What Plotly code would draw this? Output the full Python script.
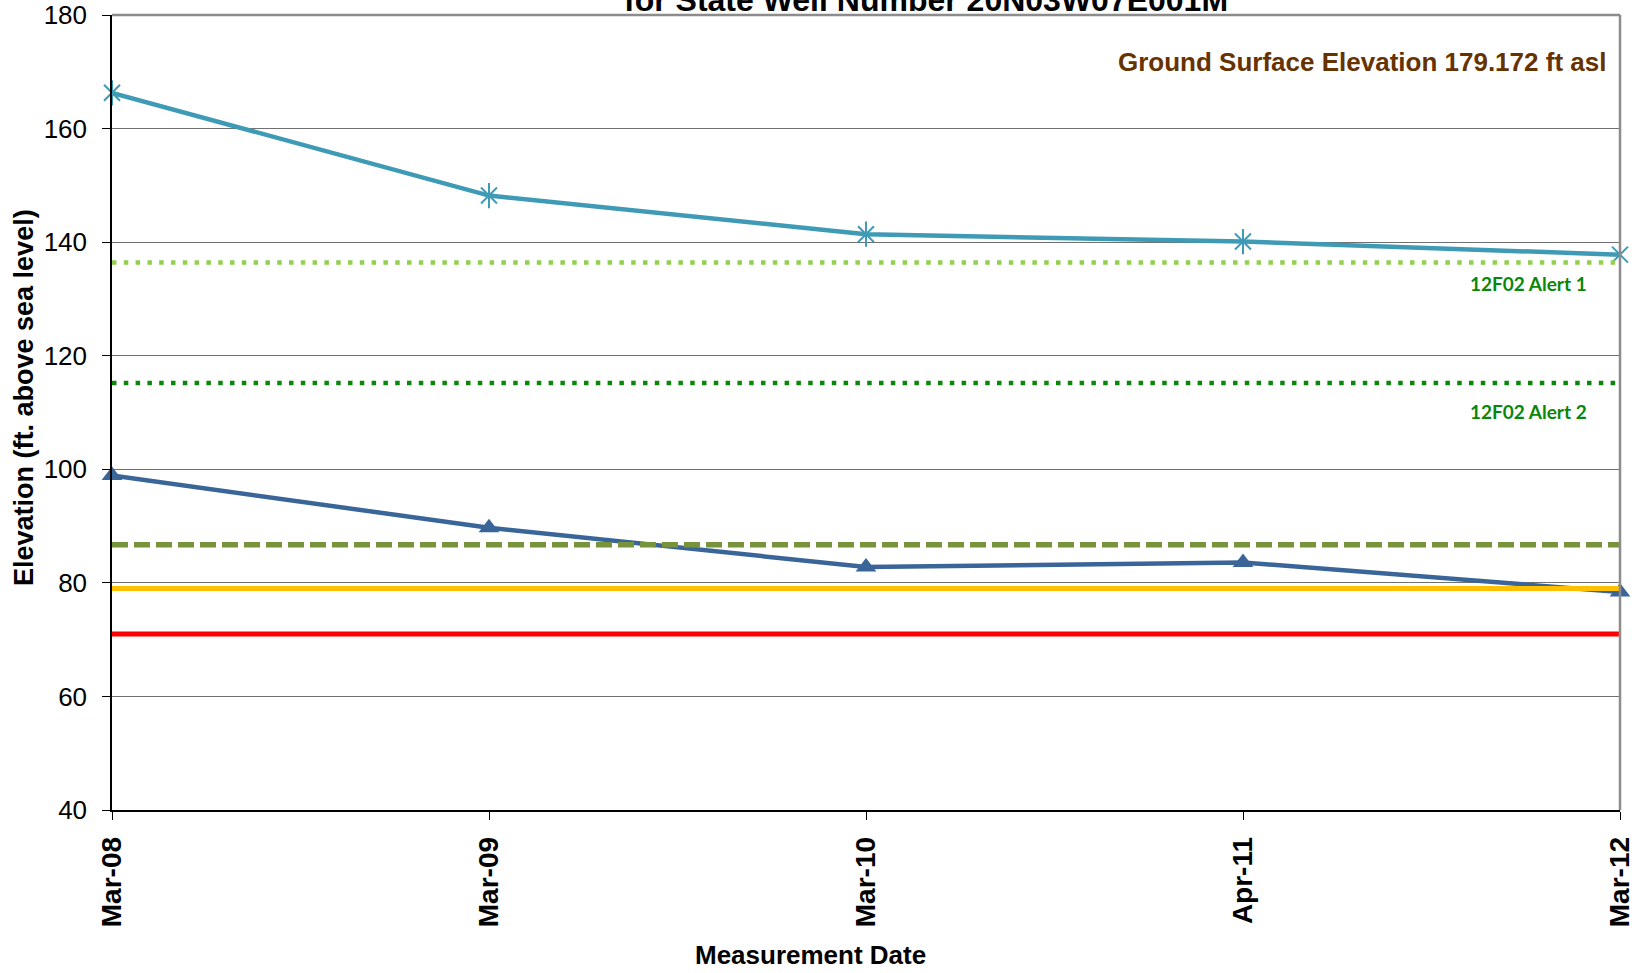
import plotly.graph_objects as go

# Measurement dates (category axis) and groundwater elevations, ft asl
dates = ["Mar-08", "Mar-09", "Mar-10", "Apr-11", "Mar-12"]
upper_aquifer = [166.3, 148.2, 141.4, 140.1, 137.8]
lower_aquifer = [98.9, 89.7, 82.8, 83.6, 78.4]

# Reference elevations drawn as horizontal lines across the record
alert1_level = 136.4
alert2_level = 115.2
olive_level = 86.7
yellow_level = 79.0
red_level = 71.0
ground_surface = 179.172

y_ticks = [40, 60, 80, 100, 120, 140, 160, 180]

FONT = "Liberation Sans, Arial, sans-serif"
TEAL = "#3f9ab5"
BLUE = "#3a6599"

fig = go.Figure()

span = [dates[0], dates[-1]]

# Upper well series: teal line with star markers (x + vertical stroke)
fig.add_trace(go.Scatter(
    x=dates, y=upper_aquifer, mode="lines",
    line=dict(color=TEAL, width=4.5), cliponaxis=False, hoverinfo="skip"))
fig.add_trace(go.Scatter(
    x=dates, y=upper_aquifer, mode="markers",
    marker=dict(symbol="x-thin-open", size=16, color=TEAL, line=dict(color=TEAL, width=2)),
    cliponaxis=False))
fig.add_trace(go.Scatter(
    x=dates, y=upper_aquifer, mode="markers",
    marker=dict(symbol="line-ns-open", size=18, color=TEAL, line=dict(color=TEAL, width=2)),
    cliponaxis=False))

# Lower well series: dark blue line with triangle markers
fig.add_trace(go.Scatter(
    x=dates, y=lower_aquifer, mode="lines+markers",
    line=dict(color=BLUE, width=4.5),
    marker=dict(symbol="triangle-up", size=18, color=BLUE),
    cliponaxis=False))

# Horizontal reference levels
levels = [
    (alert1_level, "#92d050", 4.5, "4.5px,7.3px"),
    (alert2_level, "#0a870a", 4.5, "4.5px,7.3px"),
    (olive_level, "#77933c", 5.5, "16px,6px"),
    (yellow_level, "#ffc000", 5, "solid"),
    (red_level, "#ff0000", 5, "solid"),
]
for val, col, w, dash in levels:
    fig.add_trace(go.Scatter(
        x=span, y=[val, val], mode="lines",
        line=dict(color=col, width=w, dash=dash), cliponaxis=False))

# Gray frame on the top and right of the plot area
fig.add_shape(type="line", xref="paper", yref="paper", x0=0, x1=1, y0=1, y1=1,
              line=dict(color="#8c8c8c", width=2.5))
fig.add_shape(type="line", xref="paper", yref="paper", x0=1, x1=1, y0=0, y1=1,
              line=dict(color="#8c8c8c", width=2.5))

annotations = [
    dict(text="<b>for State Well Number 20N03W07E001M</b>", xref="paper", yref="paper",
         x=(926 - 112) / 1508, y=1, xanchor="center", yanchor="bottom", yshift=-5,
         showarrow=False, font=dict(family=FONT, size=32, color="#000000")),
    dict(text="<b>Ground Surface Elevation %.3f ft asl</b>" % ground_surface,
         xref="paper", yref="paper", x=(1608 - 112) / 1508, y=(810 - 62) / 795,
         xanchor="right", yanchor="middle", showarrow=False,
         font=dict(family=FONT, size=26, color="#663300")),
    dict(text="<b>12F02 Alert 1</b>", xref="paper", yref="paper",
         x=(1528 - 112) / 1508, y=(810 - 283) / 795, xanchor="center", yanchor="middle",
         showarrow=False, font=dict(family="Lato, sans-serif", size=19, color="#0a870a")),
    dict(text="<b>12F02 Alert 2</b>", xref="paper", yref="paper",
         x=(1528 - 112) / 1508, y=(810 - 411) / 795, xanchor="center", yanchor="middle",
         showarrow=False, font=dict(family="Lato, sans-serif", size=19, color="#0a870a")),
    dict(text="<b>Elevation (ft. above sea level)</b>", xref="paper", yref="paper",
         x=(24 - 112) / 1508, y=(810 - 398) / 795, xanchor="center", yanchor="middle",
         textangle=-90, showarrow=False, font=dict(family=FONT, size=27, color="#000000")),
    dict(text="<b>Measurement Date</b>", xref="paper", yref="paper",
         x=(810 - 112) / 1508, y=-(955 - 810) / 795, xanchor="center", yanchor="middle",
         showarrow=False, font=dict(family=FONT, size=26, color="#000000")),
]

fig.update_layout(
    width=1643, height=973,
    margin=dict(l=112, r=23, t=15, b=163, autoexpand=False),
    paper_bgcolor="white", plot_bgcolor="white",
    showlegend=False,
    annotations=annotations,
    xaxis=dict(
        type="category", range=[0, len(dates) - 1],
        showgrid=False, showline=True, linecolor="#000000", linewidth=1.5,
        ticks="outside", ticklen=8, tickcolor="#000000", tickwidth=1.2,
        tickangle=-90, ticklabelstandoff=6,
        tickfont=dict(family=FONT, size=28, color="#000000"),
        tickprefix="<b>", ticksuffix="</b>", zeroline=False,
    ),
    yaxis=dict(
        range=[40, 180], tickvals=y_ticks,
        showgrid=True, gridcolor="#707070", gridwidth=1,
        showline=True, linecolor="#000000", linewidth=1.5,
        ticks="outside", ticklen=8, tickcolor="#000000", tickwidth=1.2,
        ticklabelstandoff=10,
        tickfont=dict(family=FONT, size=26, color="#000000"), zeroline=False,
    ),
)

fig.write_html("out.html")
